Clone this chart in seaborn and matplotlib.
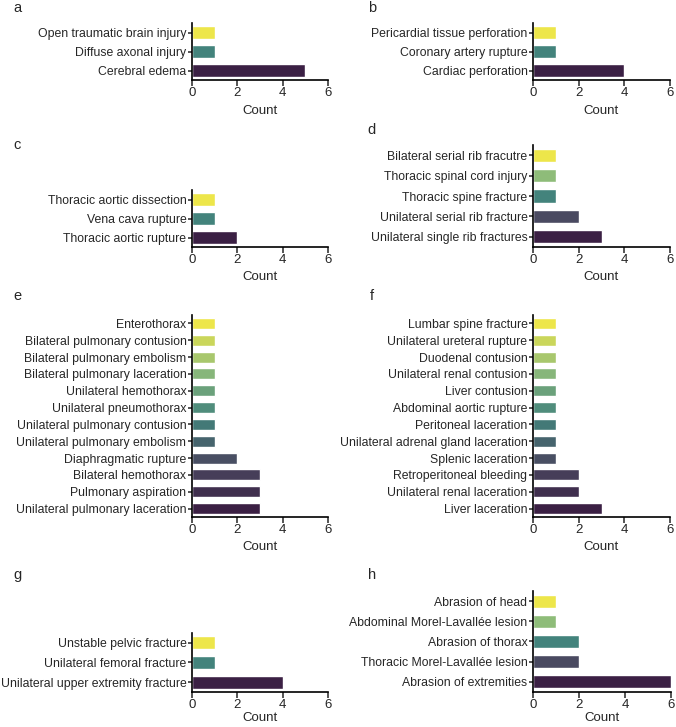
import matplotlib
matplotlib.use("Agg")
import matplotlib.pyplot as plt
import seaborn as sns
from matplotlib.colors import LinearSegmentedColormap, to_hex

# Panel data (top to bottom, as drawn)
labels_a = ["Open traumatic brain injury", "Diffuse axonal injury", "Cerebral edema"]
counts_a = [1, 1, 5]

labels_b = ["Pericardial tissue perforation", "Coronary artery rupture", "Cardiac perforation"]
counts_b = [1, 1, 4]

labels_c = ["Thoracic aortic dissection", "Vena cava rupture", "Thoracic aortic rupture"]
counts_c = [1, 1, 2]

labels_d = ["Bilateral serial rib fracutre", "Thoracic spinal cord injury",
            "Thoracic spine fracture", "Unilateral serial rib fracture",
            "Unilateral single rib fractures"]
counts_d = [1, 1, 1, 2, 3]

labels_e = ["Enterothorax", "Bilateral pulmonary contusion", "Bilateral pulmonary embolism",
            "Bilateral pulmonary laceration", "Unilateral hemothorax",
            "Unilateral pneumothorax", "Unilateral pulmonary contusion",
            "Unilateral pulmonary embolism", "Diaphragmatic rupture",
            "Bilateral hemothorax", "Pulmonary aspiration",
            "Unilateral pulmonary laceration"]
counts_e = [1, 1, 1, 1, 1, 1, 1, 1, 2, 3, 3, 3]

labels_f = ["Lumbar spine fracture", "Unilateral ureteral rupture", "Duodenal contusion",
            "Unilateral renal contusion", "Liver contusion", "Abdominal aortic rupture",
            "Peritoneal laceration", "Unilateral adrenal gland laceration",
            "Splenic laceration", "Retroperitoneal bleeding",
            "Unilateral renal laceration", "Liver laceration"]
counts_f = [1, 1, 1, 1, 1, 1, 1, 1, 1, 2, 2, 3]

labels_g = ["Unstable pelvic fracture", "Unilateral femoral fracture",
            "Unilateral upper extremity fracture"]
counts_g = [1, 1, 4]

labels_h = ["Abrasion of head", "Abdominal Morel-Lavallée lesion", "Abrasion of thorax",
            "Thoracic Morel-Lavallée lesion", "Abrasion of extremities"]
counts_h = [1, 1, 2, 2, 6]

W, H = 676, 727
# axes boxes in pixels: left, right, top, bottom
boxes = {
    "a": (192, 328, 23, 80),
    "b": (533, 670, 23, 80),
    "c": (192, 328, 190, 247),
    "d": (533, 670, 145, 247),
    "e": (192, 328, 315, 517),
    "f": (533, 670, 315, 517),
    "g": (192, 328, 633, 692),
    "h": (533, 671, 591, 692),
}
letter_pos = {"a": (17, 8), "b": (372, 8), "c": (17, 145), "d": (372, 130),
              "e": (17, 296), "f": (372, 296), "g": (17, 575), "h": (372, 575)}

panels = {
    "a": (labels_a, counts_a), "b": (labels_b, counts_b),
    "c": (labels_c, counts_c), "d": (labels_d, counts_d),
    "e": (labels_e, counts_e), "f": (labels_f, counts_f),
    "g": (labels_g, counts_g), "h": (labels_h, counts_h),
}

cmap = LinearSegmentedColormap.from_list(
    "muted_viridis", ["#3b2044", "#4a4a61", "#42837c", "#8dbb7a", "#ede64a"])

sns.set_style("ticks")
plt.rcParams["font.family"] = ["Liberation Sans", "DejaVu Sans"]

fig = plt.figure(figsize=(W / 100, H / 100), dpi=100)

for key, (labels, counts) in panels.items():
    l, r, t, b = boxes[key]
    ax = fig.add_axes([l / W, 1 - b / H, (r - l) / W, (b - t) / H])
    n = len(labels)
    cols = [to_hex(cmap(1 - i / (n - 1))) for i in range(n)]
    sns.barplot(x=counts, y=labels, hue=labels, palette=cols, legend=False,
                ax=ax, width=0.65, saturation=1)
    ax.set_xlim(0, 6)
    ax.set_xticks([0, 2, 4, 6])
    ax.set_ylim(n - 0.5, -0.5)
    # bottom row sits close to the figure edge
    pad = 1 if key in ("g", "h") else 4
    ax.set_xlabel("Count", fontsize=9.5, labelpad=pad)
    ax.set_ylabel("")
    for s in ["top", "right"]:
        ax.spines[s].set_visible(False)
    for s in ["left", "bottom"]:
        ax.spines[s].set_linewidth(1.2)
        ax.spines[s].set_color("black")
    ax.tick_params(axis="x", length=4, width=1.1, labelsize=9.5, pad=1)
    ax.tick_params(axis="y", length=3, width=1.1, labelsize=8.8, pad=1)
    lx, ly = letter_pos[key]
    fig.text(lx / W, 1 - ly / H, key, fontsize=10.5, va="center", ha="center")

fig.savefig("out.png", dpi=100)
